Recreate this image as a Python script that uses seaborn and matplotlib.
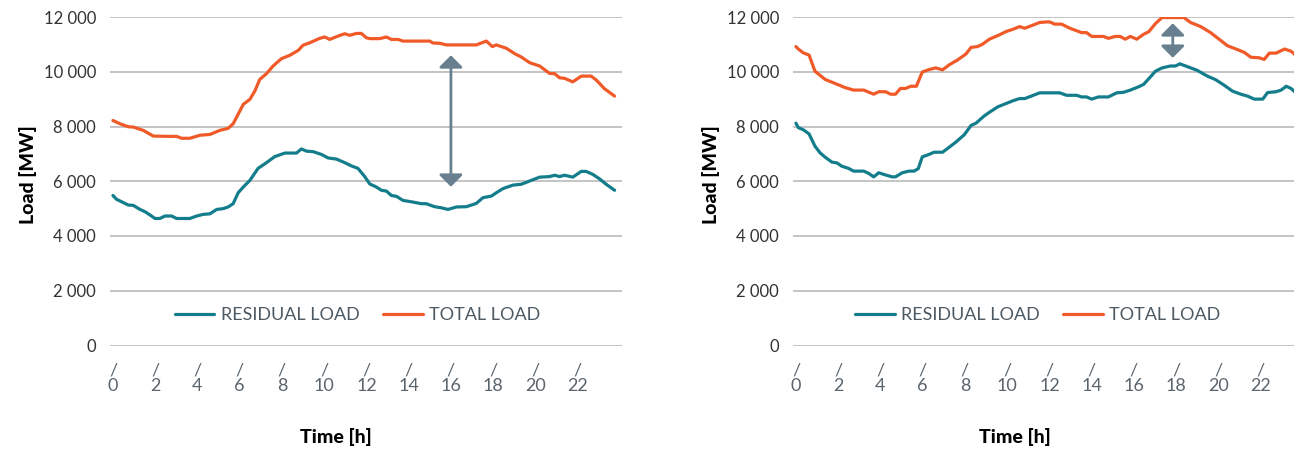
import matplotlib
matplotlib.use("Agg")
import matplotlib.pyplot as plt
import seaborn as sns
import pandas as pd

# ---------------- data ----------------
left_total_h = [0, 0.33, 0.73, 0.96, 1.43, 1.91, 2.54, 3.01, 3.25, 3.64, 4.12, 4.59, 5.06, 5.45, 5.69,
                6.01, 6.17, 6.48, 6.72, 6.95, 7.27, 7.58, 7.98, 8.37, 8.77, 9.0, 9.32, 9.79, 10.03, 10.26,
                10.58, 10.97, 11.21, 11.53, 11.76, 12.0, 12.16, 12.63, 12.95, 13.18, 13.5, 13.73, 15.0,
                15.15, 15.47, 15.79, 17.2, 17.68, 17.96, 18.15, 18.62, 19.02, 19.33, 19.73, 20.2, 20.67,
                20.91, 21.14, 21.38, 21.77, 22.17, 22.64, 22.88, 23.27, 23.75]
left_total_mw = [8220, 8100, 7990, 7980, 7860, 7650, 7640, 7640, 7570, 7570, 7680, 7710, 7860, 7930, 8100,
                 8570, 8810, 8990, 9300, 9720, 9930, 10210, 10480, 10600, 10780, 10970, 11060, 11220, 11270,
                 11180, 11280, 11390, 11330, 11400, 11400, 11240, 11210, 11210, 11270, 11180, 11180, 11120,
                 11120, 11050, 11040, 10980, 10980, 11120, 10920, 10980, 10860, 10660, 10540, 10330, 10210,
                 9940, 9930, 9780, 9760, 9630, 9840, 9840, 9700, 9380, 9110]

left_resid_h = [0, 0.17, 0.41, 0.73, 0.96, 1.28, 1.51, 1.75, 1.99, 2.22, 2.46, 2.78, 3.01, 3.64, 3.96,
                4.28, 4.59, 4.91, 5.22, 5.45, 5.69, 5.93, 6.17, 6.48, 6.87, 7.27, 7.66, 8.14, 8.69, 8.92,
                9.16, 9.48, 9.87, 10.19, 10.58, 10.97, 11.29, 11.6, 11.92, 12.16, 12.47, 12.71, 12.95,
                13.18, 13.42, 13.73, 14.2, 14.6, 14.83, 15.23, 15.55, 15.86, 16.26, 16.73, 17.2, 17.52,
                17.92, 18.15, 18.46, 18.94, 19.33, 19.73, 20.2, 20.67, 20.91, 21.14, 21.38, 21.77, 22.17,
                22.4, 22.72, 23.03, 23.35, 23.75]
left_resid_mw = [5480, 5340, 5250, 5130, 5120, 4970, 4890, 4770, 4640, 4640, 4730, 4730, 4640, 4640, 4730,
                 4790, 4810, 4970, 5000, 5060, 5180, 5580, 5790, 6030, 6470, 6680, 6900, 7030, 7030, 7180,
                 7100, 7080, 6980, 6850, 6810, 6680, 6560, 6470, 6170, 5900, 5790, 5670, 5640,
                 5480, 5450, 5300, 5240, 5180, 5180, 5070, 5030, 4970, 5060, 5070, 5190, 5400,
                 5460, 5580, 5730, 5860, 5890, 6010, 6150, 6170, 6220, 6170, 6220, 6150, 6360,
                 6360, 6250, 6090, 5890, 5670]

right_total_h = [0, 0.11, 0.35, 0.62, 0.9, 1.14, 1.38, 1.86, 2.33, 2.73, 3.21, 3.68, 3.92, 4.24, 4.48,
                 4.71, 4.95, 5.19, 5.43, 5.7, 5.98, 6.3, 6.62, 6.94, 7.25, 7.65, 8.05, 8.29, 8.6, 8.84,
                 9.16, 9.64, 9.95, 10.27, 10.59, 10.83, 11.14, 11.54, 11.86, 12.01, 12.25, 12.57, 12.97,
                 13.52, 13.76, 14.0, 14.56, 14.79, 15.11, 15.35, 15.59, 15.83, 16.14, 16.46, 16.7, 17.02,
                 17.33, 18.37, 18.68, 19.16, 19.63, 20.03, 20.43, 20.9, 21.22, 21.54, 21.93, 22.17, 22.41,
                 22.73, 23.13, 23.44, 23.71]
right_total_mw = [10920, 10830, 10690, 10610, 10020, 9870, 9720, 9570, 9420, 9330, 9330, 9180, 9270, 9270, 9180,
                  9180, 9390, 9390, 9470, 9470, 9990, 10080, 10140, 10070, 10250, 10430, 10650, 10890, 10920, 11010,
                  11190, 11350, 11470, 11550, 11650, 11590, 11680, 11800, 11820, 11820, 11740, 11740, 11590,
                  11430, 11430, 11290, 11290, 11220, 11290, 11290, 11190, 11290, 11190, 11370, 11460, 11760,
                  11980, 11980, 11800, 11650, 11430, 11190, 10950, 10810, 10710, 10530, 10510, 10450, 10680,
                  10680, 10830, 10750, 10570]

right_resid_h = [0, 0.11, 0.35, 0.62, 0.9, 1.14, 1.38, 1.7, 1.94, 2.17, 2.49, 2.73, 3.21, 3.44, 3.68,
                 3.92, 4.24, 4.56, 4.71, 5.03, 5.35, 5.59, 5.79, 5.98, 6.3, 6.54, 6.94, 7.25, 7.57, 7.97,
                 8.29, 8.52, 8.92, 9.16, 9.56, 9.95, 10.27, 10.59, 10.83, 11.14, 11.54, 12.49, 12.81, 13.29,
                 13.52, 13.76, 14.0, 14.32, 14.79, 15.19, 15.51, 15.83, 16.22, 16.46, 16.78, 17.02, 17.33,
                 17.73, 17.97, 18.17, 18.52, 19.0, 19.48, 19.87, 20.27, 20.67, 21.06, 21.38, 21.7, 22.1,
                 22.33, 22.73, 22.97, 23.21, 23.44, 23.71]
right_resid_mw = [8120, 7960, 7880, 7730, 7280, 7040, 6880, 6700, 6670, 6550, 6470, 6370, 6370, 6290, 6160,
                  6310, 6230, 6160, 6160, 6310, 6370, 6370, 6460, 6890, 6980, 7060, 7060, 7240, 7430, 7700,
                  8040, 8120, 8390, 8520, 8720, 8840, 8940, 9020, 9020, 9110, 9230, 9230, 9140, 9140,
                  9080, 9080, 9000, 9080, 9080, 9230, 9250, 9330, 9450, 9540, 9810, 10020, 10140,
                  10210, 10210, 10290, 10190, 10050, 9840, 9710, 9510, 9290, 9180, 9110, 9000, 9000,
                  9240, 9270, 9330, 9470, 9390, 9200]

hour_ticks = [0, 2, 4, 6, 8, 10, 12, 14, 16, 18, 20, 22]
y_ticks = [0, 2000, 4000, 6000, 8000, 10000, 12000]
series_names = ["RESIDUAL LOAD", "TOTAL LOAD"]
# annotation arrows: (hour, low, high)
arrow_left = (16.0, 5800, 10600)
arrow_right = (17.84, 10510, 11770)

# ---------------- style ----------------
TEAL = "#137d8c"
ORANGE = "#f05a28"
ARROW = "#677f8e"
GRID = "#b4b4b4"
TICKGRAY = "#59646d"

sns.set_theme(style="white")
plt.rcParams["font.family"] = ["Lato", "DejaVu Sans"]

fig = plt.figure(figsize=(12.94, 4.5), dpi=100)
W, H = 1294, 450
ax_w = 512 / W
ax_b = 1 - 345.5 / H
ax_h = (345.5 - 17) / H
axes = [fig.add_axes([110 / W, ax_b, ax_w, ax_h]),
        fig.add_axes([793 / W, ax_b, ax_w, ax_h])]

panels = [
    (left_resid_h, left_resid_mw, left_total_h, left_total_mw, arrow_left, 0.483, 0.441),
    (right_resid_h, right_resid_mw, right_total_h, right_total_mw, arrow_right, 0.478, 0.434),
]

for ax, (rh, rv, th, tv, arr, leg_x, xl_x) in zip(axes, panels):
    df_r = pd.DataFrame({"hour": rh, "load": rv})
    df_t = pd.DataFrame({"hour": th, "load": tv})
    sns.lineplot(data=df_r, x="hour", y="load", ax=ax, color=TEAL, lw=2.3,
                 label=series_names[0], zorder=3)
    sns.lineplot(data=df_t, x="hour", y="load", ax=ax, color=ORANGE, lw=2.3,
                 label=series_names[1], zorder=3)

    ax.set_xlim(-0.14, 24.1)
    ax.set_ylim(0, 12000)
    ax.set_yticks(y_ticks)
    ax.set_yticklabels([f"{v:,}".replace(",", " ") for v in y_ticks])
    ax.set_xticks(hour_ticks)
    ax.set_xticklabels([f"/\n{h}" for h in hour_ticks], linespacing=0.95)
    ax.tick_params(axis="x", length=0, pad=12, labelsize=13, colors=TICKGRAY)
    ax.tick_params(axis="y", length=0, pad=10, labelsize=12, colors="#333333")
    for s in ax.spines.values():
        s.set_visible(False)
    ax.grid(False)
    for v in y_ticks:
        ax.axhline(v, color=GRID, lw=1.1, zorder=1)

    ax.set_ylabel("Load [MW]", fontsize=14, fontweight=900, color="black")
    ax.yaxis.set_label_coords(-0.16, 0.52)
    ax.yaxis.label.set_va("center")
    ax.set_xlabel("Time [h]", fontsize=14, fontweight=900, color="black")
    ax.xaxis.set_label_coords(xl_x, -0.279)
    ax.xaxis.label.set_va("center")

    ax.annotate("", xy=(arr[0], arr[1]), xytext=(arr[0], arr[2]),
                arrowprops=dict(arrowstyle="<|-|>,head_length=0.6,head_width=0.6",
                                mutation_scale=12, color=ARROW, lw=2.0,
                                shrinkA=0, shrinkB=0), zorder=4)

    leg = ax.legend(loc="center", bbox_to_anchor=(leg_x, 0.092), ncol=2, frameon=False,
                    fontsize=13, handlelength=2.2, handletextpad=0.35, columnspacing=1.3)
    for t in leg.get_texts():
        t.set_color("#4d5a63")
    for l in leg.get_lines():
        l.set_linewidth(2.3)

fig.savefig("out.png", dpi=100)
